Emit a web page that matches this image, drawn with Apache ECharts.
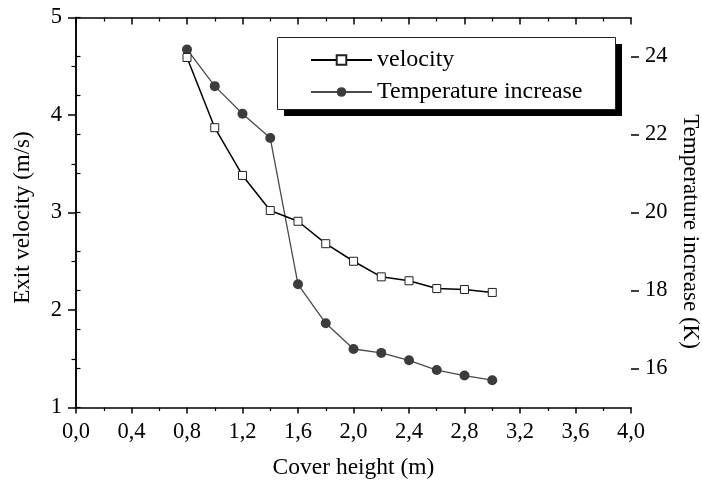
<!DOCTYPE html>
<html><head><meta charset="utf-8">
<script src="https://cdn.jsdelivr.net/npm/echarts@6/dist/echarts.min.js"></script>
<style>html,body{margin:0;padding:0;background:#fff}#c{width:702px;height:484px}</style>
</head><body><div id="c"></div>
<script>
const coverHeight = [0.8, 1.0, 1.2, 1.4, 1.6, 1.8, 2.0, 2.2, 2.4, 2.6, 2.8, 3.0];
const velocity = [4.59, 3.87, 3.38, 3.02, 2.91, 2.68, 2.50, 2.34, 2.30, 2.22, 2.21, 2.18];
const tempIncrease = [24.18, 23.24, 22.53, 21.91, 18.16, 17.16, 16.50, 16.40, 16.21, 15.96, 15.82, 15.70];
const rightMajorTicks = [16, 18, 20, 22, 24];
const seriesNames = ['velocity', 'Temperature increase'];

const FONT = 'Liberation Serif';
const black = '#000';
const chart = echarts.init(document.getElementById('c'), null, {renderer: 'canvas'});

const lineAx = {show: true, lineStyle: {color: black, width: 1.5}};
const xCommon = {
  type: 'value', min: 0, max: 4, interval: 0.4,
  axisLine: lineAx, splitLine: {show: false}
};

chart.setOption({
  animation: false,
  backgroundColor: '#fff',
  grid: {left: 76, top: 17.5, width: 555, height: 390, containLabel: false, outerBoundsMode: 'none'},
  graphic: [
    {type: 'rect', z: 0, shape: {x: 284, y: 44, width: 338, height: 72}, style: {fill: '#000'}},
    {type: 'rect', z: 1, shape: {x: 277.5, y: 37.5, width: 338, height: 72},
      style: {fill: '#fff', stroke: '#222', lineWidth: 1}}
  ],
  legend: {
    orient: 'vertical', left: 277, top: 37,
    data: seriesNames,
    itemWidth: 61, itemHeight: 12, itemGap: 8,
    padding: [11, 33, 6, 33],
    textStyle: {fontFamily: FONT, fontSize: 24, color: black},
    backgroundColor: 'transparent', borderWidth: 0
  },
  xAxis: [
    Object.assign({}, xCommon, {
      position: 'bottom',
      name: 'Cover height (m)', nameLocation: 'middle', nameGap: 48,
      nameTextStyle: {fontFamily: FONT, fontSize: 23.5, color: black},
      axisTick: {show: true, inside: false, length: 6, lineStyle: {color: black, width: 1.5}},
      minorTick: {show: true, splitNumber: 2, length: 3.5, lineStyle: {color: black, width: 1.2}},
      axisLabel: {margin: 13, fontFamily: FONT, fontSize: 22.5, color: black,
        formatter: v => v.toFixed(1).replace('.', ',')}
    }),
    Object.assign({}, xCommon, {
      position: 'top',
      axisTick: {show: true, inside: true, length: 7, lineStyle: {color: black, width: 1.5}},
      minorTick: {show: true, splitNumber: 2, length: 4, lineStyle: {color: black, width: 1.2}},
      axisLabel: {show: false}
    })
  ],
  yAxis: [
    {
      type: 'value', position: 'left', min: 1, max: 5, interval: 1,
      name: 'Exit velocity (m/s)', nameLocation: 'middle', nameGap: 42,
      nameTextStyle: {fontFamily: FONT, fontSize: 23, color: black, padding: [0, 10, 0, 0]},
      axisLine: lineAx, splitLine: {show: false},
      axisTick: {show: true, inside: false, length: 8, lineStyle: {color: black, width: 1.5}},
      minorTick: {show: true, splitNumber: 2, length: 4.5, lineStyle: {color: black, width: 1.2}},
      axisLabel: {margin: 14, fontFamily: FONT, fontSize: 22.5, color: black}
    },
    {
      type: 'value', position: 'right', min: 15, max: 25, interval: 1,
      name: 'Temperature increase (K)', nameLocation: 'middle', nameGap: 45, nameRotate: -90,
      nameTextStyle: {fontFamily: FONT, fontSize: 23, color: black, padding: [0, 0, 0, 38]},
      axisLine: lineAx, splitLine: {show: false},
      axisTick: {show: true, inside: false, length: 4.5, lineStyle: {color: black, width: 1.2}},
      axisLabel: {margin: 14, fontFamily: FONT, fontSize: 22.5, color: black,
        formatter: v => (rightMajorTicks.indexOf(v) >= 0 ? String(v) : '')}
    },
    {
      type: 'value', position: 'right', min: 15, max: 25,
      axisLine: {show: false}, splitLine: {show: false},
      axisTick: {show: true, inside: false, length: 8, customValues: rightMajorTicks,
        lineStyle: {color: black, width: 1.5}},
      axisLabel: {show: false}
    }
  ],
  series: [
    {
      name: seriesNames[0], type: 'line', xAxisIndex: 0, yAxisIndex: 0,
      data: coverHeight.map((x, i) => [x, velocity[i]]),
      symbol: 'rect', symbolSize: 8, showAllSymbol: true,
      itemStyle: {color: '#fff', borderColor: '#222', borderWidth: 1},
      lineStyle: {color: '#000', width: 1.5}, z: 3
    },
    {
      name: seriesNames[1], type: 'line', xAxisIndex: 0, yAxisIndex: 1,
      data: coverHeight.map((x, i) => [x, tempIncrease[i]]),
      symbol: 'circle', symbolSize: 10, showAllSymbol: true,
      itemStyle: {color: '#3c3c3c', borderColor: '#3c3c3c', borderWidth: 0},
      lineStyle: {color: '#4a4a4a', width: 1.3}, z: 2
    }
  ]
});
</script></body></html>
